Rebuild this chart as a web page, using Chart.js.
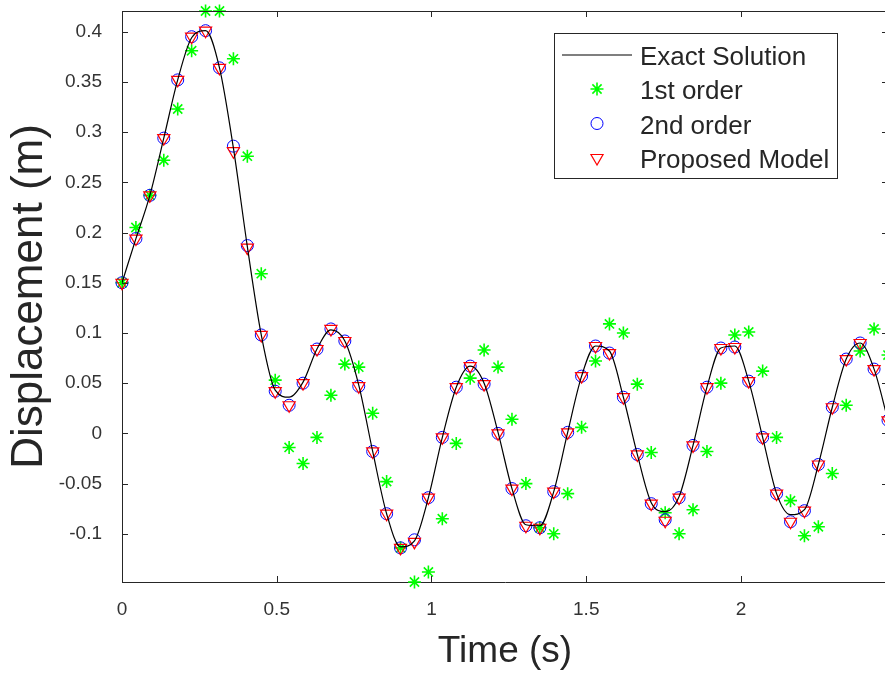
<!DOCTYPE html>
<html>
<head>
<meta charset="utf-8">
<script src="https://cdn.jsdelivr.net/npm/chart.js@4.4.1/dist/chart.umd.min.js"></script>
<style>
    html, body { margin: 0; padding: 0; background: #fff; overflow: hidden; }
    #wrap { position: absolute; left: 0; top: 0; width: 888px; height: 673px; }
</style>
</head>
<body>
<div id="wrap"><canvas id="dispChart" width="888" height="673"></canvas></div>
<script>
// sample times (s)
const timeS = [
    0, 0.045, 0.09, 0.135, 0.18, 0.225, 0.27, 0.315, 0.36, 0.405,
    0.45, 0.495, 0.54, 0.585, 0.63, 0.675, 0.72, 0.765, 0.81, 0.855,
    0.9, 0.945, 0.99, 1.035, 1.08, 1.125, 1.17, 1.215, 1.26, 1.305,
    1.35, 1.395, 1.44, 1.485, 1.53, 1.575, 1.62, 1.665, 1.71, 1.755,
    1.8, 1.845, 1.89, 1.935, 1.98, 2.025, 2.07, 2.115, 2.16, 2.205,
    2.25, 2.295, 2.34, 2.385, 2.43, 2.475
];

// displacement (m)
const exactDisp = [
    0.150, 0.194, 0.237, 0.294, 0.352, 0.394, 0.401, 0.364, 0.284, 0.186,
    0.098, 0.043, 0.036, 0.051, 0.084, 0.103, 0.092, 0.048, -0.018, -0.080,
    -0.113, -0.107, -0.064, -0.004, 0.046, 0.067, 0.050, 0.001, -0.055, -0.091,
    -0.092, -0.058, 0.001, 0.057, 0.087, 0.082, 0.036, -0.021, -0.069, -0.078,
    -0.063, -0.012, 0.046, 0.085, 0.087, 0.052, -0.004, -0.060, -0.081, -0.076,
    -0.031, 0.026, 0.074, 0.090, 0.064, 0.013
];
const firstOrderDisp = [
    0.150, 0.205, 0.237, 0.272, 0.323, 0.381, 0.4206, 0.4206, 0.373, 0.276,
    0.159, 0.053, -0.014, -0.030, -0.004, 0.038, 0.069, 0.066, 0.020, -0.048,
    -0.114, -0.148, -0.138, -0.085, -0.010, 0.055, 0.083, 0.066, 0.014, -0.050,
    -0.094, -0.100, -0.060, 0.006, 0.072, 0.109, 0.100, 0.049, -0.019, -0.079,
    -0.100, -0.076, -0.018, 0.050, 0.098, 0.101, 0.062, -0.004, -0.067, -0.102,
    -0.093, -0.040, 0.028, 0.082, 0.104, 0.078
];
const secondOrderDisp = [
    0.150, 0.194, 0.237, 0.294, 0.352, 0.395, 0.401, 0.364, 0.286, 0.187,
    0.098, 0.042, 0.028, 0.050, 0.084, 0.104, 0.092, 0.047, -0.018, -0.080,
    -0.114, -0.106, -0.064, -0.004, 0.046, 0.067, 0.049, 0.000, -0.055, -0.092,
    -0.094, -0.058, 0.001, 0.057, 0.087, 0.080, 0.036, -0.021, -0.070, -0.086,
    -0.064, -0.012, 0.046, 0.085, 0.086, 0.052, -0.004, -0.060, -0.088, -0.077,
    -0.031, 0.026, 0.074, 0.090, 0.064, 0.013
];
const proposedDisp = [
    0.150, 0.194, 0.237, 0.294, 0.352, 0.395, 0.401, 0.364, 0.281, 0.185,
    0.098, 0.042, 0.028, 0.050, 0.084, 0.104, 0.092, 0.047, -0.018, -0.080,
    -0.114, -0.108, -0.064, -0.004, 0.046, 0.067, 0.049, 0.000, -0.055, -0.092,
    -0.094, -0.058, 0.001, 0.057, 0.087, 0.080, 0.036, -0.021, -0.070, -0.087,
    -0.064, -0.012, 0.046, 0.085, 0.086, 0.052, -0.004, -0.060, -0.088, -0.077,
    -0.031, 0.026, 0.074, 0.090, 0.064, 0.013
];

const xTicks = [0, 0.5, 1, 1.5, 2];
const yTicks = [-0.1, -0.05, 0, 0.05, 0.1, 0.15, 0.2, 0.25, 0.3, 0.35, 0.4];

const FONT = '"Liberation Sans", Arial, Helvetica, sans-serif';
const AXIS_COLOR = '#262626';

const toPoints = (ys) => timeS.map((t, i) => ({ x: t, y: ys[i] }));

// keep the axes box fixed: no extra room for edge labels
const fixPadding = (scale) => {
    scale.paddingTop = 0;
    scale.paddingBottom = 0;
    scale.paddingLeft = 0;
    scale.paddingRight = 0;
};

// MATLAB-style box: top/right border plus inward tick marks on all four sides
const boxTicks = {
    id: 'boxTicks',
    afterDatasetsDraw(chart) {
        const { ctx, chartArea: a, scales } = chart;
        const len = 6;
        ctx.save();
        ctx.strokeStyle = AXIS_COLOR;
        ctx.lineWidth = 1;
        ctx.beginPath();
        ctx.moveTo(a.left, a.top + 0.5);
        ctx.lineTo(a.right, a.top + 0.5);
        ctx.moveTo(a.right - 0.5, a.top);
        ctx.lineTo(a.right - 0.5, a.bottom);
        xTicks.forEach(v => {
            const px = Math.round(scales.x.getPixelForValue(v)) + 0.5;
            ctx.moveTo(px, a.bottom); ctx.lineTo(px, a.bottom - len);
            ctx.moveTo(px, a.top); ctx.lineTo(px, a.top + len);
        });
        yTicks.forEach(v => {
            const py = Math.round(scales.y.getPixelForValue(v)) + 0.5;
            ctx.moveTo(a.left, py); ctx.lineTo(a.left + len, py);
            ctx.moveTo(a.right, py); ctx.lineTo(a.right - len, py);
        });
        ctx.stroke();
        ctx.restore();
    }
};

// boxed legend in the upper right of the axes
const boxLegend = {
    id: 'boxLegend',
    afterDraw(chart) {
        const { ctx } = chart;
        const box = { left: 554.5, top: 33.5, right: 837.5, bottom: 178.5 };
        const baselines = [65, 99, 133.5, 168];
        const markX = 597;
        ctx.save();
        ctx.fillStyle = '#fff';
        ctx.fillRect(box.left, box.top, box.right - box.left, box.bottom - box.top);
        ctx.strokeStyle = AXIS_COLOR;
        ctx.lineWidth = 1;
        ctx.strokeRect(box.left, box.top, box.right - box.left, box.bottom - box.top);

        chart.data.datasets.forEach((ds, i) => {
            const yb = baselines[i];
            const ym = yb - 10;
            if (ds.showLine) {
                ctx.strokeStyle = ds.borderColor;
                ctx.lineWidth = ds.borderWidth;
                ctx.beginPath();
                ctx.moveTo(562, ym);
                ctx.lineTo(632, ym);
                ctx.stroke();
            } else {
                ctx.strokeStyle = ds.borderColor;
                ctx.fillStyle = 'rgba(0,0,0,0)';
                ctx.lineWidth = ds.borderWidth;
                Chart.helpers.drawPoint(ctx, {
                    pointStyle: ds.pointStyle,
                    rotation: ds.rotation || 0,
                    radius: ds.pointRadius,
                    borderWidth: ds.borderWidth
                }, markX, ym);
            }
            ctx.fillStyle = AXIS_COLOR;
            ctx.font = '26px ' + FONT;
            ctx.textBaseline = 'alphabetic';
            ctx.textAlign = 'left';
            ctx.fillText(ds.label, 640, yb);
        });
        ctx.restore();
    }
};

const ctx = document.getElementById('dispChart').getContext('2d');

new Chart(ctx, {
    type: 'scatter',
    data: {
        datasets: [
            {
                label: 'Exact Solution',
                data: toPoints(exactDisp),
                showLine: true,
                borderColor: '#000000',
                borderWidth: 1.2,
                pointRadius: 0,
                cubicInterpolationMode: 'monotone',
                order: 0
            },
            {
                label: '1st order',
                data: toPoints(firstOrderDisp),
                showLine: false,
                pointStyle: 'star',
                pointRadius: 6.5,
                borderColor: '#00ff00',
                backgroundColor: 'rgba(0,0,0,0)',
                borderWidth: 1.6,
                clip: false,
                order: 3
            },
            {
                label: '2nd order',
                data: toPoints(secondOrderDisp),
                showLine: false,
                pointStyle: 'circle',
                pointRadius: 6,
                borderColor: '#0000ff',
                backgroundColor: 'rgba(0,0,0,0)',
                borderWidth: 1,
                clip: false,
                order: 2
            },
            {
                label: 'Proposed Model',
                data: toPoints(proposedDisp),
                showLine: false,
                pointStyle: 'triangle',
                rotation: 180,
                pointRadius: 7,
                borderColor: '#ff0000',
                backgroundColor: 'rgba(0,0,0,0)',
                borderWidth: 1.2,
                clip: false,
                order: 1
            }
        ]
    },
    options: {
        responsive: false,
        animation: false,
        devicePixelRatio: 1,
        layout: { autoPadding: false, padding: { top: 11, right: 0, bottom: 0, left: 0 } },
        plugins: {
            legend: { display: false },
            tooltip: { enabled: false }
        },
        scales: {
            x: {
                type: 'linear',
                min: 0,
                max: 2.475,
                afterFit: (scale) => { scale.height = 91; fixPadding(scale); },
                afterBuildTicks: (scale) => { scale.ticks = xTicks.map(v => ({ value: v })); },
                grid: { display: false },
                border: { display: true, color: AXIS_COLOR, width: 1 },
                ticks: {
                    color: '#333',
                    padding: 8,
                    maxRotation: 0,
                    font: { family: FONT, size: 19 },
                    callback: (v) => String(v)
                },
                title: {
                    display: true,
                    text: 'Time (s)',
                    color: AXIS_COLOR,
                    padding: { top: 0, bottom: 3 },
                    font: { family: FONT, size: 37, lineHeight: 1 }
                }
            },
            y: {
                type: 'linear',
                min: -0.148,
                max: 0.4206,
                afterFit: (scale) => { scale.width = 122; fixPadding(scale); },
                afterBuildTicks: (scale) => { scale.ticks = yTicks.map(v => ({ value: v })); },
                grid: { display: false },
                border: { display: true, color: AXIS_COLOR, width: 1 },
                ticks: {
                    color: '#333',
                    padding: 12,
                    font: { family: FONT, size: 19 },
                    callback: (v) => String(v)
                },
                title: {
                    display: true,
                    text: 'Displacement (m)',
                    color: AXIS_COLOR,
                    padding: { top: 8, bottom: 0 },
                    font: { family: FONT, size: 44, lineHeight: 1 }
                }
            }
        }
    },
    plugins: [boxTicks, boxLegend]
});
</script>
</body>
</html>
